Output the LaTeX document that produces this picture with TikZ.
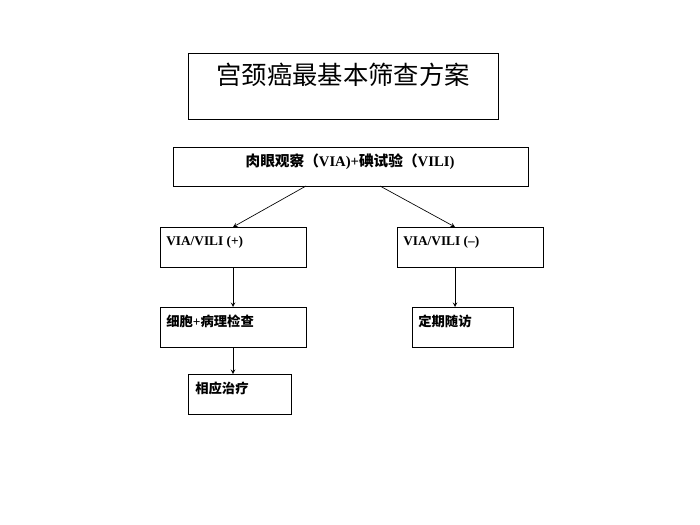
\documentclass[tikz,border=0pt]{standalone}
\usepackage{fontspec}
\setmainfont{Liberation Serif}
\newfontfamily\cjk{Noto Sans CJK SC}
\newfontfamily\cjkb{Noto Sans CJK SC Bold}
\begin{document}
\begin{tikzpicture}[x=0.75pt,y=-0.75pt,
  box/.style={draw,line width=0.6pt},
  lbl/.style={anchor=north west,inner sep=0pt,font=\bfseries\fontsize{10}{12}\selectfont},
  arr/.style={-stealth,line width=0.5pt}]
\useasboundingbox (0,0) rectangle (700,525);
\draw[box] (188,53) rectangle (498,119);
\node (t) at (343,75) {\cjk\fontsize{19}{22}\selectfont 宫颈癌最基本筛查方案};
\draw[box] (173,147) rectangle (528,186);
\node (m) at (350,162) {\fontsize{11}{13}\selectfont\bfseries{\cjkb 肉眼观察（}VIA)+{\cjkb 碘试验（}VILI)};
\draw[box] (160,227) rectangle (306,267);
\node[lbl] (a) at (166,236) {VIA/VILI (+)};
\draw[box] (397,227) rectangle (543,267);
\node[lbl] (b) at (403,236) {VIA/VILI (–)};
\draw[box] (160,307) rectangle (306,347);
\node[lbl] (c) at (166,315) {{\cjkb 细胞}+{\cjkb 病理检查}};
\draw[box] (412,307) rectangle (513,347);
\node[lbl] (d) at (418,315) {\cjkb 定期随访};
\draw[box] (188,374) rectangle (291,414);
\node[lbl] (e) at (195,382) {\cjkb 相应治疗};
\coordinate (m1) at (306,186); \coordinate (m2) at (380,186);
\coordinate (a1) at (233,227); \coordinate (a2) at (233,267);
\coordinate (b1) at (455,227); \coordinate (b2) at (455,267);
\coordinate (c1) at (233,307); \coordinate (c2) at (233,347);
\coordinate (d1) at (455,307); \coordinate (e1) at (233,374);
\draw[arr] (m1) -- (a1);
\draw[arr] (m2) -- (b1);
\draw[arr] (a2) -- (c1);
\draw[arr] (b2) -- (d1);
\draw[arr] (c2) -- (e1);
\end{tikzpicture}
\end{document}
